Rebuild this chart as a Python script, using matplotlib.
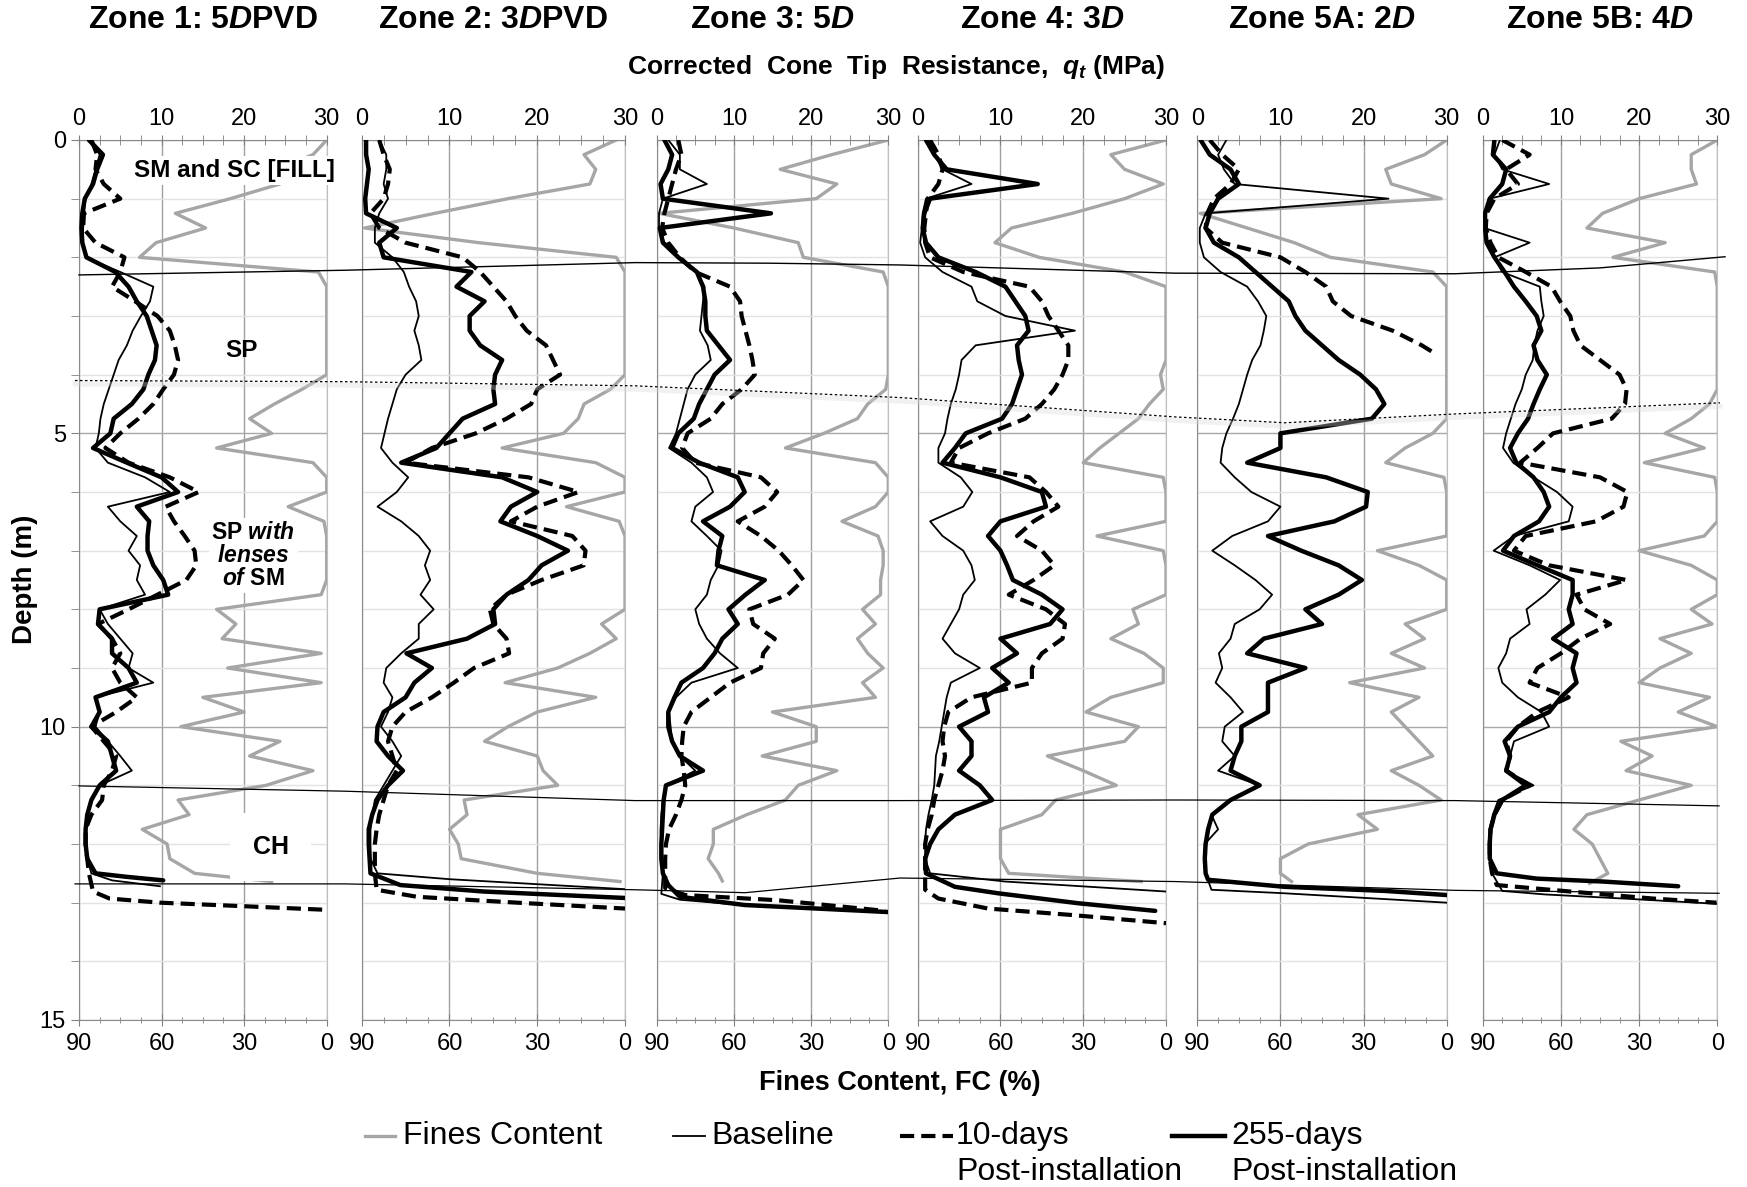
import matplotlib
matplotlib.use("Agg")
import matplotlib.pyplot as plt
from matplotlib.lines import Line2D
from matplotlib.ticker import MultipleLocator
import numpy as np

plt.rcParams['font.family'] = ['Liberation Sans', 'DejaVu Sans']
plt.rcParams['mathtext.fontset'] = 'custom'
plt.rcParams['mathtext.it'] = 'Liberation Sans:italic:bold'
plt.rcParams['mathtext.rm'] = 'Liberation Sans:bold'
plt.rcParams['mathtext.bf'] = 'Liberation Sans:bold'

# depth grid (m) on which every CPT trace was read, 0.25 m step
depth = np.linspace(0, 12.5, 51)

titles = ["Zone 1: 5$D$PVD", "Zone 2: 3$D$PVD", "Zone 3: 5$D$",
          "Zone 4: 3$D$", "Zone 5A: 2$D$", "Zone 5B: 4$D$"]

# ---- Zone 1 ----
z1_fc = [0, 5, 18, 17, 35, 55, 44, 62, 68, 3,
         0, 0, 0, 0, 0, 0, 0, 9, 19, 28,
         20, 40, 5, 0, 0, 14, 1, 0, 0, 0,
         0, 2, 40, 33, 38, 2, 36, 2, 45, 30,
         53, 17, 28, 5, 22, 54, 50, 67, 58, 57,
         48]
z1_fc_tail = ([12.64], [20])
z1_base = [1.5, 2.5, 2.0, 1.5, 0.8, 0.6, 0.5, 0.5, 0.8, 5.0,
           9.0, 8.6, 7.5, 6.5, 5.8, 4.8, 4.2, 3.6, 3.0, 2.6,
           2.4, 2.0, 3.5, 8.0, 11.0, 3.5, 5.0, 7.0, 6.0, 7.4,
           7.0, 8.0, 2.5, 3.5, 5.0, 6.5, 6.0, 9.0, 2.0, 2.5,
           2.0, 3.5, 5.0, 6.4, 2.5, 1.5, 1.0, 0.8, 0.8, 1.0,
           1.5]
z1_base_tail = ([12.62, 12.72], [4.0, 9.8])
z1_d10 = [1.5, 2.2, 2.0, 3.0, 5.0, 0.6, 0.5, 2.0, 5.5, 5.0,
          4.0, 6.8, 9.5, 11.0, 11.6, 12.0, 11.5, 10.2, 9.0, 7.2,
          5.0, 3.2, 6.0, 11.0, 14.5, 10.5, 11.5, 12.8, 14.0, 14.2,
          13.0, 9.5, 6.0, 2.3, 4.0, 5.0, 4.0, 5.0, 7.0, 4.5,
          1.5, 3.0, 4.5, 4.0, 3.0, 2.8, 1.5, 0.8, 0.8, 1.0,
          1.2]
z1_d10_tail = ([12.81, 12.93, 13.0, 13.06, 13.12], [1.7, 3.7, 9.8, 19.9, 29.6])
z1_d255 = [1.2, 2.9, 2.2, 1.7, 0.7, 0.4, 0.3, 0.4, 0.9, 4.4,
           6.0, 7.0, 8.2, 8.8, 9.4, 9.2, 8.4, 7.8, 6.4, 4.2,
           3.8, 1.7, 5.8, 10.0, 12.0, 7.0, 8.5, 8.3, 8.3, 9.0,
           10.2, 10.8, 2.5, 2.3, 4.0, 4.0, 6.0, 7.0, 2.0, 2.5,
           1.5, 3.5, 4.0, 4.5, 2.5, 1.5, 1.0, 0.8, 0.8, 1.0,
           2.0]
z1_d255_tail = ([12.56, 12.62], [5.8, 10.2])

# ---- Zone 2 ----
z2_fc = [3, 14, 10, 12, 40, 65, 89, 50, 3, 0,
         0, 0, 0, 0, 0, 0, 0, 5, 14, 16,
         21, 42, 10, 0, 0, 20, 2, 0, 0, 0,
         0, 0, 0, 8, 3, 12, 23, 41, 10, 30,
         40, 48, 30, 28, 23, 55, 54, 60, 57, 56,
         30]
z2_fc_tail = ([12.64], [1.7])
z2_base = [2.0, 2.8, 2.8, 2.5, 3.0, 2.0, 1.5, 1.5, 3.5, 4.8,
           5.4, 6.2, 6.5, 6.0, 6.5, 6.8, 5.0, 4.0, 3.5, 3.0,
           2.6, 2.2, 3.5, 5.3, 4.0, 1.8, 4.5, 6.5, 7.8, 7.2,
           7.8, 6.7, 8.2, 6.5, 6.5, 4.5, 2.8, 2.5, 3.5, 3.0,
           2.2, 3.5, 4.5, 3.5, 2.5, 1.5, 1.2, 1.0, 1.0, 1.0,
           1.8]
z2_base_tail = ([12.6, 12.77], [10.0, 30.0])
z2_d10 = [2.0, 2.5, 3.2, 3.0, 2.5, 1.0, 2.0, 5.0, 11.5, 13.5,
          15.0, 16.5, 17.5, 18.8, 21.0, 21.8, 22.6, 20.0, 19.3, 16.5,
          13.0, 8.0, 5.0, 19.0, 24.7, 20.0, 17.0, 24.0, 25.5, 25.3,
          20.5, 16.5, 14.6, 15.0, 16.5, 16.8, 12.8, 10.5, 8.0, 5.0,
          3.5, 3.0, 3.5, 4.0, 3.0, 2.5, 2.0, 1.7, 1.5, 1.5,
          1.5]
z2_d10_tail = ([12.78, 12.9, 13.0, 13.1], [1.7, 6.3, 17.7, 30.0])
z2_d255 = [0.5, 0.5, 0.8, 0.6, 0.4, 0.5, 4.0, 2.0, 2.5, 12.5,
           10.8, 14.0, 12.3, 12.3, 13.5, 16.0, 15.2, 15.0, 15.2, 11.5,
           10.0, 8.5, 4.5, 16.0, 20.0, 17.0, 15.8, 20.0, 23.5, 20.5,
           19.0, 16.5, 15.0, 15.2, 12.0, 5.1, 8.0, 6.0, 5.0, 2.5,
           1.8, 1.7, 3.0, 4.7, 3.0, 1.8, 1.2, 0.8, 0.8, 0.9,
           1.0]
z2_d255_tail = ([12.7, 12.81, 12.92], [4.4, 13.9, 30.0])

# ---- Zone 3 ----
z3_fc = [0, 22, 42, 20, 28, 89, 60, 35, 33, 2,
         0, 0, 0, 0, 0, 0, 0, 1, 8, 12,
         25, 40, 5, 0, 0, 5, 18, 4, 2, 2,
         3, 3, 10, 5, 12, 8, 2, 10, 5, 45,
         28, 28, 49, 20, 35, 40, 55, 68, 68, 70,
         66]
z3_fc_tail = ([12.63], [64.5])
z3_base = [1.5, 3.0, 3.0, 6.5, 0.8, 0.3, 0.3, 1.0, 2.8, 5.2,
           6.2, 6.0, 5.8, 5.6, 6.6, 7.0, 5.0, 4.0, 3.5, 3.0,
           2.5, 1.6, 4.5, 6.5, 7.3, 5.0, 4.5, 6.5, 8.4, 8.0,
           7.0, 6.5, 5.0, 5.5, 6.5, 8.2, 10.5, 4.5, 2.5, 1.6,
           1.8, 2.0, 3.0, 5.0, 1.2, 0.8, 0.6, 0.5, 0.6, 0.7,
           0.8]
z3_base_tail = ([12.85, 12.95, 13.05, 13.16], [0.6, 3.0, 12.0, 30.0])
z3_d10 = [2.8, 3.2, 2.5, 2.0, 1.5, 1.0, 0.7, 1.5, 3.0, 5.0,
          9.5, 10.8, 11.0, 11.5, 12.0, 12.4, 12.7, 11.0, 8.5, 7.0,
          4.0, 3.3, 5.0, 13.5, 15.6, 14.0, 10.5, 13.5, 15.8, 17.5,
          19.0, 17.0, 12.0, 12.5, 15.3, 13.8, 13.5, 9.5, 7.0, 4.5,
          3.5, 3.3, 3.2, 3.5, 3.7, 3.2, 2.5, 1.6, 1.2, 1.1,
          1.1]
z3_d10_tail = ([12.75, 12.87, 12.96, 13.14], [1.1, 3.7, 15.8, 29.6])
z3_d255 = [1.0, 2.0, 1.5, 0.5, 0.8, 14.8, 0.4, 0.8, 2.8, 5.2,
           6.0, 6.3, 6.3, 6.5, 8.0, 9.5, 7.5, 6.5, 5.5, 4.8,
           2.8, 2.0, 5.5, 10.5, 11.4, 9.5, 6.0, 8.5, 8.0, 7.8,
           14.0, 11.5, 9.3, 10.5, 8.5, 7.5, 6.0, 3.2, 2.3, 1.5,
           1.5, 2.0, 3.0, 6.0, 1.2, 0.9, 0.8, 0.7, 0.6, 0.6,
           0.8]
z3_d255_tail = ([12.7, 12.9, 13.04, 13.16], [1.5, 3.0, 11.4, 30.0])

# ---- Zone 4 ----
z4_fc = [0, 20, 15, 1, 15, 34, 56, 62, 46, 15,
         0, 0, 0, 0, 0, 0, 2, 1, 6, 10,
         17, 24, 30, 1, 0, 0, 0, 25, 1, 0,
         0, 0, 12, 10, 20, 8, 1, 1, 20, 29,
         10, 15, 43, 30, 18, 40, 45, 60, 60, 60,
         57]
z4_fc_tail = ([12.64], [9])
z4_base = [1.3, 2.0, 3.0, 6.5, 1.0, 0.6, 0.5, 0.3, 0.9, 3.0,
           6.5, 7.2, 10.6, 19.0, 7.0, 5.3, 5.0, 4.6, 4.0, 3.6,
           3.3, 2.5, 2.5, 5.2, 6.6, 5.5, 1.5, 3.0, 5.5, 6.5,
           6.9, 5.5, 5.0, 4.0, 3.0, 4.5, 7.5, 4.0, 3.5, 3.2,
           2.9, 2.6, 2.2, 2.1, 2.0, 1.7, 1.3, 1.0, 0.9, 0.9,
           1.5]
z4_base_tail = ([12.64, 12.81], [10.6, 30.0])
z4_d10 = [1.5, 2.5, 3.0, 2.5, 1.2, 1.0, 0.8, 0.9, 1.5, 5.5,
          13.5, 15.0, 15.8, 17.0, 18.2, 18.2, 17.5, 16.5, 15.0, 13.0,
          8.5, 5.0, 4.0, 13.5, 15.5, 17.0, 14.0, 12.0, 15.0, 16.5,
          14.0, 11.0, 15.5, 17.8, 17.5, 15.0, 13.8, 13.8, 6.5, 3.7,
          3.2, 3.0, 3.3, 3.0, 2.5, 2.0, 1.7, 1.2, 0.9, 0.9,
          0.9]
z4_d10_tail = ([12.78, 12.93, 13.1, 13.21, 13.35], [0.9, 2.5, 8.5, 18.6, 30.0])
z4_d255 = [1.0, 2.0, 3.5, 14.5, 1.5, 0.8, 0.6, 1.0, 2.5, 7.0,
           10.6, 11.8, 13.0, 13.4, 12.0, 12.2, 12.6, 12.0, 11.4, 10.2,
           5.8, 4.5, 3.0, 10.0, 15.0, 15.5, 10.0, 8.5, 10.0, 10.8,
           11.5, 15.0, 17.5, 16.0, 10.0, 12.0, 9.0, 11.0, 8.0, 8.5,
           5.0, 6.5, 6.5, 5.0, 7.5, 9.0, 4.5, 2.5, 1.5, 0.9,
           1.0]
z4_d255_tail = ([12.73, 12.84, 13.01, 13.14], [4.5, 9.7, 19.4, 28.7])

# ---- Zone 5A ----
z5_fc = [0, 8, 22, 20, 2, 89, 72, 55, 42, 5,
         0, 0, 0, 0, 0, 0, 0, 0, 0, 0,
         5, 15, 22, 1, 0, 0, 0, 0, 25, 10,
         0, 0, 0, 15, 8, 20, 8, 35, 10, 20,
         15, 10, 5, 20, 10, 2, 32, 25, 50, 60,
         60]
z5_fc_tail = ([12.64], [56])
z5_base = [3.5, 2.5, 3.2, 4.5, 23.0, 1.0, 0.3, 0.3, 0.8, 2.8,
           6.0, 7.3, 8.3, 8.0, 7.6, 6.6, 6.0, 5.5, 5.0, 4.3,
           3.5, 3.0, 2.8, 4.5, 6.5, 10.0, 8.5, 4.2, 1.8, 4.5,
           7.0, 9.0, 7.5, 4.5, 4.0, 2.6, 3.0, 2.2, 4.0, 5.5,
           3.3, 3.0, 4.5, 2.5, 7.5, 4.0, 1.7, 2.5, 0.9, 0.9,
           1.0]
z5_base_tail = ([12.78, 12.84, 13.0], [1.7, 10.5, 30.0])
z5_d10 = [1.5, 3.0, 5.0, 4.0, 2.0, 1.2, 1.0, 3.0, 10.0, 13.0,
          15.5, 16.3, 18.5, 23.5, 27.0]
z5_d10_tail = ([3.64], [28.6])
z5_d255 = [0.4, 1.5, 4.0, 5.0, 2.5, 1.5, 1.0, 2.0, 5.0, 7.0,
           9.0, 11.0, 11.8, 13.0, 15.0, 17.0, 19.6, 21.5, 22.5, 21.0,
           10.0, 10.0, 6.0, 15.5, 20.5, 20.3, 16.5, 8.5, 12.5, 17.0,
           19.8, 17.0, 13.0, 15.0, 8.0, 6.0, 13.0, 8.5, 8.5, 8.5,
           5.3, 5.3, 4.5, 4.0, 7.5, 4.0, 1.8, 1.3, 1.0, 0.9,
           1.0]
z5_d255_tail = ([12.61, 12.73, 12.8, 12.87], [1.3, 10.5, 22.6, 30.0])

# ---- Zone 5B ----
z6_fc = [0, 10, 10, 8, 30, 44, 50, 20, 40, 1,
         0, 0, 0, 0, 0, 0, 0, 0, 3, 10,
         20, 5, 28, 1, 0, 0, 0, 5, 30, 10,
         0, 0, 10, 2, 22, 10, 22, 30, 3, 15,
         0, 37, 25, 35, 10, 30, 50, 55, 48, 45,
         42]
z6_fc_tail = ([12.67], [49])
z6_base = [2.2, 1.5, 2.5, 8.5, 0.9, 0.4, 0.2, 6.0, 1.5, 2.5,
           7.3, 7.5, 7.8, 7.0, 6.6, 6.4, 5.5, 5.0, 4.2, 3.6,
           3.0, 2.6, 3.9, 6.5, 9.5, 11.5, 11.0, 4.0, 1.4, 6.0,
           9.9, 8.0, 5.6, 6.0, 3.5, 3.0, 2.0, 2.5, 4.5, 7.5,
           8.5, 4.0, 3.5, 3.0, 6.5, 2.0, 1.3, 1.0, 0.9, 1.0,
           1.2]
z6_base_tail = ([12.8, 12.86, 12.93, 13.02], [2.5, 8.0, 18.0, 30.0])
z6_d10 = [2.5, 6.0, 3.0, 4.5, 1.5, 0.5, 0.4, 1.0, 2.0, 5.5,
          8.8, 9.9, 11.2, 11.6, 12.5, 15.0, 17.5, 18.4, 18.2, 16.5,
          9.0, 7.0, 4.8, 15.0, 18.5, 18.0, 14.5, 5.5, 4.0, 8.5,
          18.4, 12.0, 13.0, 16.3, 12.5, 10.0, 7.0, 6.0, 11.0, 7.0,
          4.5, 3.0, 3.5, 3.0, 6.0, 2.5, 1.5, 1.0, 0.9, 0.9,
          1.2]
z6_d10_tail = ([12.7, 12.81, 12.93, 13.0], [1.8, 11.2, 21.8, 29.9])
z6_d255 = [1.5, 1.3, 3.0, 2.5, 0.9, 0.3, 0.3, 0.5, 1.5, 2.8,
           4.0, 5.5, 6.9, 7.5, 6.5, 7.0, 8.2, 7.3, 6.5, 5.8,
           4.5, 3.5, 4.3, 6.5, 7.8, 8.5, 7.2, 4.0, 2.6, 7.0,
           11.5, 11.5, 11.0, 11.5, 9.0, 12.0, 11.5, 12.0, 10.0, 8.5,
           4.5, 2.8, 3.5, 3.0, 5.5, 2.5, 1.5, 1.0, 0.9, 0.9,
           1.8]
z6_d255_tail = ([12.59, 12.64, 12.72], [6.9, 15.4, 25.0])

# stratigraphic boundaries drawn across all panels (x = position in figure px, depth m)
fill_x = [79, 345, 635, 770, 900, 1175, 1455, 1600, 1725]
fill_d = [2.30, 2.22, 2.09, 2.10, 2.13, 2.27, 2.28, 2.18, 1.99]
sp_x = [75, 345, 635, 900, 1175, 1285, 1455, 1720]
sp_d = [4.10, 4.12, 4.19, 4.39, 4.72, 4.82, 4.67, 4.48]
ch_top_x = [79, 345, 635, 900, 1175, 1455, 1719]
ch_top_d = [11.01, 11.10, 11.26, 11.26, 11.25, 11.26, 11.35]
ch_bot_x = [75, 345, 635, 745, 900, 1175, 1455, 1719]
ch_bot_d = [12.68, 12.68, 12.78, 12.83, 12.58, 12.64, 12.79, 12.84]

zones = [
    (z1_fc, z1_fc_tail, z1_base, z1_base_tail, z1_d10, z1_d10_tail, z1_d255, z1_d255_tail),
    (z2_fc, z2_fc_tail, z2_base, z2_base_tail, z2_d10, z2_d10_tail, z2_d255, z2_d255_tail),
    (z3_fc, z3_fc_tail, z3_base, z3_base_tail, z3_d10, z3_d10_tail, z3_d255, z3_d255_tail),
    (z4_fc, z4_fc_tail, z4_base, z4_base_tail, z4_d10, z4_d10_tail, z4_d255, z4_d255_tail),
    (z5_fc, z5_fc_tail, z5_base, z5_base_tail, z5_d10, z5_d10_tail, z5_d255, z5_d255_tail),
    (z6_fc, z6_fc_tail, z6_base, z6_base_tail, z6_d10, z6_d10_tail, z6_d255, z6_d255_tail),
]


def trace(vals, tail):
    d = list(depth[:len(vals)]) + list(tail[0])
    v = list(vals) + list(tail[1])
    return v, d


W, H = 1747, 1187
TOP, BOT = 140, 1020
lefts = [79, 361.7, 656.7, 917.7, 1197.3, 1482.7]
rights = [326.7, 625, 888.3, 1166, 1446.7, 1717.3]

GRAY = '#a6a6a6'
fig = plt.figure(figsize=(W / 100, H / 100), dpi=100)

for i, z in enumerate(zones):
    fc, fc_t, base, base_t, d10, d10_t, d255, d255_t = z
    l, r = lefts[i], rights[i]
    ax = fig.add_axes([l / W, 1 - BOT / H, (r - l) / W, (BOT - TOP) / H])
    ax.set_xlim(90, 0)
    ax.set_ylim(15, 0)
    ax.set_axisbelow(True)

    # fines content on the bottom (reversed %) axis
    x, y = trace(fc, fc_t)
    ax.plot(x, y, color=GRAY, lw=2.4, solid_joinstyle='round')

    ax.set_xticks([90, 60, 30, 0])
    ax.xaxis.set_minor_locator(MultipleLocator(7.5))
    ax.tick_params(axis='x', which='major', direction='inout', length=8,
                   labelsize=17, pad=5, color='#808080')
    ax.tick_params(axis='x', which='minor', direction='inout', length=5, color='#808080')
    ax.set_yticks([0, 5, 10, 15])
    ax.yaxis.set_minor_locator(MultipleLocator(1))
    ax.grid(axis='x', which='major', color='#a0a0a0', lw=1.0)
    ax.yaxis.grid(True, which='major', color='#a8a8a8', lw=1.0)
    ax.yaxis.grid(True, which='minor', color='#e2e2e2', lw=1.0)
    if i == 0:
        ax.tick_params(axis='y', which='both', direction='out', length=6,
                       labelsize=17, color='#808080')
    else:
        ax.tick_params(axis='y', which='both', length=0, labelleft=False)
    for s in ['left', 'top', 'bottom']:
        ax.spines[s].set_color('#8c8c8c')
    ax.spines['right'].set_color('#bfbfbf')

    # cone tip resistance on the top axis
    axq = ax.twiny()
    axq.set_xlim(0, 30)
    axq.set_xticks([0, 10, 20, 30])
    axq.xaxis.set_minor_locator(MultipleLocator(2.5))
    axq.tick_params(axis='x', which='both', direction='inout', length=7,
                    labelsize=17, pad=4, color='#808080')
    for s in axq.spines.values():
        s.set_visible(False)

    x, y = trace(base, base_t)
    axq.plot(x, y, color='black', lw=1.3, solid_joinstyle='round')
    x, y = trace(d10, d10_t)
    axq.plot(x, y, color='black', lw=3.0, dashes=(3.4, 1.7))
    x, y = trace(d255, d255_t)
    axq.plot(x, y, color='black', lw=3.2, solid_joinstyle='round',
             solid_capstyle='round')

    fig.text((l + r) / 2 / W, 1 - 20 / H, titles[i], ha='center', va='center',
             fontsize=23, fontweight='bold')

    if i == 0:
        box = dict(facecolor='white', edgecolor='none', pad=2)
        axq.text(18.8, 0.52, "SM and SC [FILL]", ha='center', va='center',
                 fontsize=17.5, fontweight='bold', bbox=box, clip_on=False, zorder=5)
        axq.text(19.7, 3.58, "SP", ha='center', va='center',
                 fontsize=17.5, fontweight='bold')
        axq.text(21.1, 7.08, "SP $with$\n$lenses$\n$of$ SM", ha='center',
                 va='center', fontsize=16.5, fontweight='bold', linespacing=1.0,
                 bbox=box, zorder=5)
        axq.text(23.2, 12.05, "CH", ha='center', va='center', fontsize=18,
                 fontweight='bold', zorder=5,
                 bbox=dict(facecolor='white', edgecolor='none', pad=16))

# boundary lines across the section
ov = fig.add_axes([0, 1 - BOT / H, 1, (BOT - TOP) / H], zorder=10)
ov.set_xlim(0, W)
ov.set_ylim(15, 0)
ov.axis('off')
ov.plot(fill_x, fill_d, color='black', lw=1.0)
ov.plot(sp_x, np.array(sp_d) + 0.06, color='#d8d8d8', lw=3.5, alpha=0.35)
ov.plot(sp_x, sp_d, color='black', lw=0.9, dashes=(2, 2))
ov.plot(ch_top_x, ch_top_d, color='black', lw=0.9)
ov.plot(ch_bot_x, ch_bot_d, color='black', lw=0.9)

fig.text(896 / W, 1 - 67 / H, "Corrected  Cone  Tip  Resistance,  $q_t$ (MPa)",
         ha='center', va='center', fontsize=19, fontweight='bold')
fig.text(900 / W, 1 - 1083 / H, "Fines Content, FC (%)", ha='center',
         va='center', fontsize=19.5, fontweight='bold')
fig.text(25 / W, 1 - 579 / H, "Depth (m)", ha='center', va='center',
         rotation=90, fontsize=20, fontweight='bold')

# legend, laid out like the original (handle level with the first text line)
handles = [Line2D([], [], color=GRAY, lw=2.4),
           Line2D([], [], color='black', lw=1.3),
           Line2D([], [], color='black', lw=3.0, dashes=(3.4, 1.7)),
           Line2D([], [], color='black', lw=3.2)]
labels = ["Fines Content", "Baseline", "10-days\nPost-installation",
          "255-days\nPost-installation"]
leg_x0 = [365, 673, 900, 1172]
leg_x1 = [395, 705, 953, 1225]
leg_tx = [403, 711, 956, 1231]
row_y = [1136, 1172]
for h, lab, a, b, t in zip(handles, labels, leg_x0, leg_x1, leg_tx):
    ln = Line2D([a / W, b / W], [1 - row_y[0] / H] * 2, transform=fig.transFigure,
                color=h.get_color(), lw=h.get_linewidth(), linestyle=h.get_linestyle())
    if h.get_linestyle() == '--':
        ln.set_dashes((3.4, 1.7))
    fig.add_artist(ln)
    for k, part in enumerate(lab.split("\n")):
        fig.text(t / W, 1 - row_y[k] / H, part, ha='left', va='center', fontsize=23)

fig.savefig("out.png", dpi=100)
